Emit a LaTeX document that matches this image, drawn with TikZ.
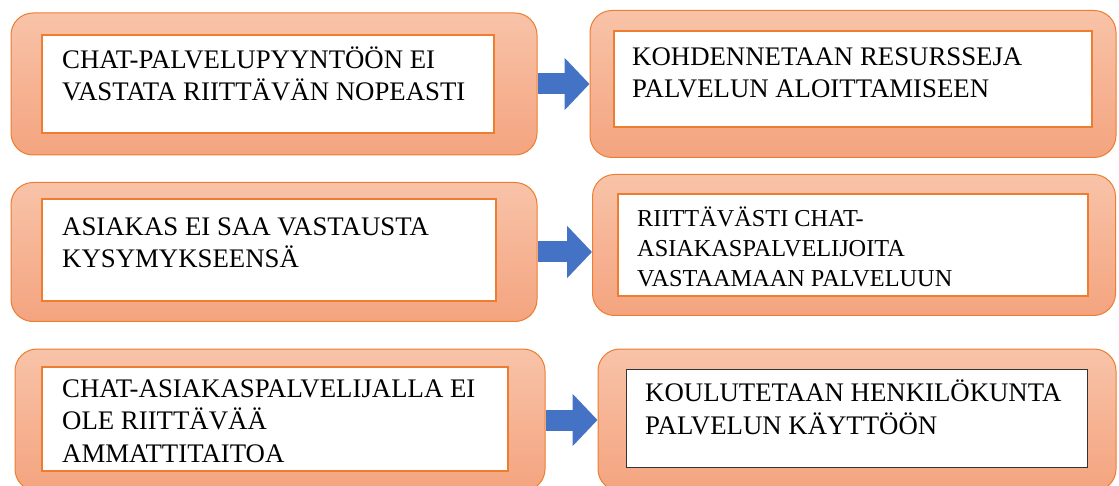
\documentclass[tikz,border=0pt]{standalone}
\usepackage{fontspec}
\setmainfont{Liberation Serif}
\usetikzlibrary{arrows.meta}
\definecolor{boxorange}{HTML}{ED7D31}
\definecolor{peachtop}{HTML}{F8C3A8}
\definecolor{peachbot}{HTML}{F4A47F}
\definecolor{arrowblue}{HTML}{4472C4}
\begin{document}
\begin{tikzpicture}[
  x=1pt, y=-1pt,
  every node/.style={font=\fontsize{26.8}{32.5}\selectfont},
  outerbox/.style={draw=boxorange, line width=1pt, rounded corners=22pt, top color=peachtop, bottom color=peachbot, inner sep=0pt},
  innerbox/.style={draw=boxorange, line width=2pt, fill=white, inner sep=0pt},
  boxtext/.style={anchor=base west, align=left, inner sep=0pt},
  flowarrow/.style={-{Triangle[length=25pt,width=51pt]}, line width=21pt, arrowblue}
]
  \useasboundingbox (0,0) rectangle (1119,486);
  % left column
  \node[outerbox, minimum width=526pt, minimum height=142pt] (l1) at (274,84) {};
  \node[innerbox, minimum width=452pt, minimum height=98pt] (f1) at (268,84) {};
  \node[outerbox, minimum width=526pt, minimum height=139pt] (l2) at (274,252) {};
  \node[innerbox, minimum width=454pt, minimum height=102pt] (f2) at (269,250) {};
  \node[outerbox, minimum width=530pt, minimum height=142pt] (l3) at (280,420) {};
  \node[innerbox, minimum width=466pt, minimum height=104pt] (f3) at (275,419) {};
  % right column
  \node[outerbox, minimum width=526pt, minimum height=147pt] (r1) at (853,84) {};
  \node[innerbox, minimum width=478pt, minimum height=96pt] (g1) at (853,79) {};
  \node[outerbox, minimum width=523pt, minimum height=141pt] (r2) at (854,245) {};
  \node[innerbox, minimum width=470pt, minimum height=102pt] (g2) at (853,245) {};
  \node[outerbox, minimum width=518pt, minimum height=142pt] (r3) at (857,420) {};
  \node[innerbox, draw=black!80, line width=1pt, minimum width=461pt, minimum height=98pt] (g3) at (857,418) {};
  % texts (base = last line)
  \node[boxtext] (t1) at (62,101) {CHAT-PALVELUPYYNTÖÖN EI\\VASTATA RIITTÄVÄN NOPEASTI};
  \node[boxtext] (t2) at (62,268) {ASIAKAS EI SAA VASTAUSTA\\KYSYMYKSEENSÄ};
  \node[boxtext] (t3) at (62,462) {CHAT-ASIAKASPALVELIJALLA EI\\OLE RIITTÄVÄÄ\\AMMATTITAITOA};
  \node[boxtext] (u1) at (632,98) {KOHDENNETAAN RESURSSEJA\\PALVELUN ALOITTAMISEEN};
  \node[boxtext, font=\fontsize{24.3}{30}\selectfont] (u2) at (637,287) {RIITTÄVÄSTI CHAT-\\ASIAKASPALVELIJOITA\\VASTAAMAAN PALVELUUN};
  \node[boxtext] (u3) at (645,434) {KOULUTETAAN HENKILÖKUNTA\\PALVELUN KÄYTTÖÖN};
  % arrows
  \draw[flowarrow] (l1.east) -- (l1.east -| r1.west);
  \draw[flowarrow] (l2.east) -- (l2.east -| r2.west);
  \draw[flowarrow] (l3.east) -- (l3.east -| r3.west);
\end{tikzpicture}
\end{document}
